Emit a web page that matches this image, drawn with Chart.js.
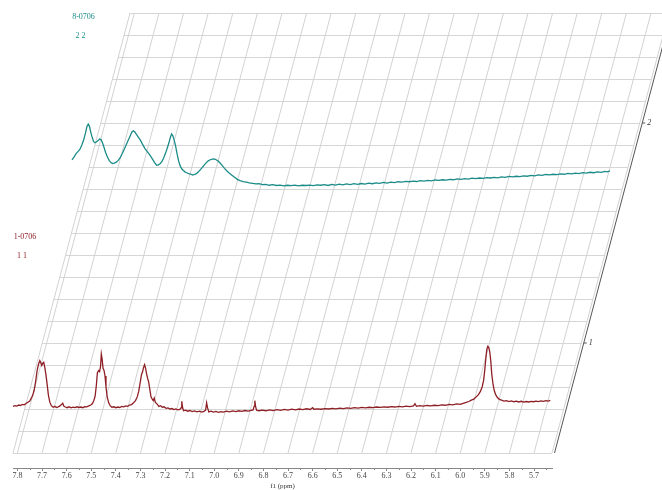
<!DOCTYPE html>
<html>
<head>
<meta charset="utf-8">
<script src="https://cdn.jsdelivr.net/npm/chart.js@4"></script>
<style>
  body { margin: 0; background: #fff; }
  #wrap { width: 662px; height: 490px; }
</style>
</head>
<body>
<div id="wrap"><canvas id="js--chart" width="662" height="490"></canvas></div>
<script>
// spectrum names (top-left labels)
const specNames = ['1-0706', '8-0706'];
const specNums = ['1 1', '2 2'];
const specColors = ['#8e1f25', '#1b8c88'];
const depthLabels = ['1', '2'];

// spectrum 1 (front), chemical shift in ppm and intensity
const s1Ppm = [7.818,7.810,7.802,7.795,7.788,7.780,7.772,7.764,7.757,7.750,7.744,7.738,7.732,7.726,7.720,7.714,7.709,7.705,7.701,7.697,
  7.693,7.689,7.684,7.679,7.674,7.668,7.662,7.655,7.648,7.641,7.634,7.627,7.621,7.616,7.611,7.605,7.598,7.590,7.582,7.574,
  7.566,7.558,7.550,7.542,7.534,7.526,7.518,7.510,7.502,7.495,7.489,7.484,7.479,7.475,7.470,7.466,7.462,7.459,7.456,7.452,
  7.448,7.444,7.440,7.435,7.429,7.423,7.416,7.408,7.400,7.392,7.384,7.376,7.368,7.360,7.352,7.344,7.336,7.328,7.320,7.313,
  7.307,7.301,7.296,7.291,7.287,7.283,7.279,7.275,7.271,7.267,7.262,7.257,7.252,7.248,7.244,7.239,7.232,7.225,7.218,7.211,
  7.204,7.196,7.188,7.180,7.172,7.164,7.156,7.148,7.140,7.135,7.132,7.129,7.125,7.117,7.108,7.099,7.090,7.080,7.070,7.060,
  7.050,7.042,7.035,7.031,7.027,7.022,7.013,7.003,6.993,6.983,6.973,6.963,6.950,6.938,6.925,6.912,6.900,6.888,6.875,6.862,
  6.850,6.842,6.838,6.835,6.832,6.828,6.818,6.805,6.790,6.775,6.760,6.745,6.730,6.715,6.700,6.685,6.670,6.655,6.640,6.625,
  6.610,6.600,6.595,6.580,6.565,6.550,6.535,6.520,6.505,6.490,6.475,6.460,6.445,6.430,6.415,6.400,6.385,6.370,6.355,6.340,
  6.325,6.310,6.295,6.280,6.265,6.250,6.235,6.220,6.205,6.190,6.184,6.178,6.165,6.150,6.135,6.120,6.105,6.090,6.075,6.060,
  6.045,6.030,6.015,6.000,5.988,5.976,5.965,5.955,5.945,5.935,5.926,5.918,5.911,5.905,5.900,5.896,5.892,5.888,5.884,5.880,
  5.876,5.872,5.867,5.862,5.856,5.849,5.841,5.832,5.822,5.812,5.802,5.792,5.782,5.772,5.762,5.752,5.742,5.732,5.722,5.712,
  5.702,5.692,5.682,5.672,5.662,5.652,5.642,5.634];
const s1Int = [0.12,0.15,0.13,0.18,0.16,0.21,0.19,0.26,0.31,0.36,0.48,0.62,0.85,1.25,1.75,2.05,2.2,2.1,1.98,2.08,
  2.12,1.9,1.55,1.1,0.62,0.3,0.15,0.08,0.12,0.07,0.1,0.14,0.2,0.26,0.12,0.09,0.06,0.1,0.05,0.08,
  0.06,0.1,0.07,0.09,0.06,0.11,0.1,0.14,0.18,0.25,0.4,0.6,1.1,1.65,1.75,1.7,1.95,2.5,2.3,1.85,
  1.75,1.5,1.0,0.55,0.28,0.15,0.08,0.1,0.06,0.09,0.07,0.12,0.1,0.14,0.12,0.18,0.2,0.28,0.38,0.55,
  0.8,1.2,1.55,1.7,1.9,2.02,1.85,1.6,1.4,1.25,0.9,0.55,0.45,0.38,0.5,0.3,0.22,0.12,0.15,0.08,
  0.1,0.03,0.05,0.0,0.02,-0.03,0.0,-0.04,-0.02,0.05,0.35,0.1,-0.08,-0.05,-0.1,-0.07,-0.12,-0.09,-0.13,-0.1,
  -0.14,-0.11,-0.05,0.28,0.05,-0.13,-0.1,-0.14,-0.11,-0.15,-0.12,-0.14,-0.1,-0.13,-0.09,-0.12,-0.08,-0.11,-0.07,-0.1,
  -0.06,-0.04,0.12,0.38,0.12,-0.05,-0.08,-0.05,-0.08,-0.04,-0.07,-0.03,-0.06,-0.02,-0.05,-0.01,-0.04,0.0,-0.03,0.01,
  -0.02,0.06,-0.01,0.01,-0.01,0.02,0.0,0.03,0.01,0.04,0.02,0.05,0.03,0.06,0.04,0.07,0.05,0.08,0.06,0.09,
  0.07,0.1,0.08,0.11,0.09,0.12,0.1,0.13,0.11,0.14,0.24,0.12,0.15,0.13,0.16,0.14,0.17,0.15,0.19,0.17,
  0.21,0.19,0.23,0.21,0.26,0.3,0.34,0.4,0.45,0.55,0.65,0.8,1.0,1.3,1.8,2.3,2.7,2.85,2.8,2.6,
  2.2,1.6,1.15,0.85,0.65,0.52,0.44,0.4,0.36,0.38,0.34,0.37,0.33,0.36,0.32,0.35,0.31,0.34,0.32,0.35,
  0.33,0.36,0.34,0.37,0.35,0.38,0.36,0.39];

// spectrum 2 (back)
const s2Ppm = [7.816,7.808,7.800,7.792,7.784,7.776,7.768,7.761,7.755,7.750,7.745,7.740,7.734,7.728,7.722,7.716,7.710,7.704,7.698,7.692,
  7.686,7.679,7.672,7.665,7.658,7.651,7.644,7.636,7.628,7.620,7.612,7.604,7.596,7.588,7.580,7.573,7.567,7.561,7.554,7.546,
  7.538,7.530,7.520,7.510,7.500,7.490,7.480,7.472,7.465,7.457,7.450,7.443,7.436,7.429,7.422,7.416,7.411,7.406,7.400,7.394,
  7.388,7.382,7.376,7.370,7.364,7.357,7.350,7.342,7.334,7.326,7.318,7.310,7.302,7.294,7.286,7.278,7.270,7.262,7.254,7.246,
  7.238,7.230,7.222,7.214,7.205,7.196,7.186,7.176,7.166,7.155,7.144,7.133,7.120,7.108,7.095,7.082,7.068,7.055,7.042,7.028,
  7.015,7.000,6.985,6.970,6.955,6.940,6.925,6.910,6.895,6.880,6.865,6.850,6.835,6.820,6.805,6.790,6.775,6.760,6.745,6.730,
  6.715,6.700,6.685,6.670,6.655,6.640,6.625,6.610,6.595,6.580,6.565,6.550,6.535,6.520,6.505,6.490,6.475,6.460,6.445,6.430,
  6.415,6.400,6.385,6.370,6.355,6.340,6.325,6.310,6.295,6.280,6.265,6.250,6.235,6.220,6.205,6.190,6.175,6.160,6.145,6.130,
  6.115,6.100,6.085,6.070,6.055,6.040,6.025,6.010,5.995,5.980,5.965,5.950,5.935,5.920,5.905,5.890,5.875,5.860,5.845,5.830,
  5.815,5.800,5.785,5.770,5.755,5.740,5.725,5.710,5.695,5.680,5.665,5.650,5.640,5.629];
const s2Int = [1.32,1.45,1.6,1.7,1.8,2.0,2.25,2.55,2.85,2.95,2.85,2.6,2.35,2.15,2.1,2.15,2.2,2.27,2.25,2.1,
  1.9,1.65,1.45,1.3,1.2,1.16,1.18,1.22,1.3,1.42,1.6,1.8,2.0,2.2,2.4,2.58,2.64,2.6,2.48,2.35,
  2.22,2.05,1.85,1.7,1.55,1.38,1.2,1.08,1.1,1.16,1.25,1.42,1.62,1.85,2.1,2.35,2.5,2.42,2.2,1.9,
  1.55,1.25,1.05,0.92,0.85,0.78,0.74,0.7,0.68,0.63,0.66,0.7,0.78,0.88,0.98,1.1,1.2,1.28,1.33,1.36,
  1.37,1.33,1.27,1.18,1.06,0.94,0.82,0.72,0.63,0.53,0.44,0.38,0.34,0.31,0.28,0.26,0.23,0.24,0.2,0.21,
  0.17,0.2,0.16,0.18,0.14,0.17,0.15,0.18,0.14,0.17,0.16,0.18,0.15,0.19,0.17,0.2,0.16,0.21,0.18,0.22,
  0.19,0.23,0.2,0.24,0.21,0.25,0.22,0.27,0.24,0.28,0.26,0.3,0.27,0.31,0.29,0.33,0.31,0.35,0.33,0.36,
  0.34,0.38,0.36,0.39,0.37,0.41,0.39,0.42,0.4,0.44,0.42,0.46,0.44,0.47,0.45,0.49,0.47,0.5,0.48,0.52,
  0.5,0.53,0.51,0.55,0.53,0.57,0.55,0.58,0.56,0.6,0.58,0.62,0.6,0.64,0.62,0.66,0.64,0.67,0.65,0.69,
  0.67,0.71,0.69,0.72,0.7,0.74,0.72,0.76,0.74,0.78,0.76,0.8,0.78,0.82];

const ROWS = 20;          // horizontal grid rows
const SKEW = 117 / 440;   // x shift per pixel of depth
const BASE = 2;           // baseline row of front spectrum
const DEPTHS = [0, 10];   // rows each spectrum is stacked back
const PPM_MIN = 5.627;
const PPM_MAX = 7.818;

function toPoints(ppm, vals, depth){
  return ppm.map(function(p, i){
    return { x: p, y: BASE + depth + vals[i] };
  });
}

const skewPlugin = {
  id: 'skew',
  beforeDatasetsDraw(chart){
    const ctx = chart.ctx;
    const xs = chart.scales.x, ys = chart.scales.y;
    const area = chart.chartArea;
    const y0 = ys.getPixelForValue(0);
    const yTop = ys.getPixelForValue(ROWS);
    const dx = (y0 - yTop) * SKEW;
    ctx.save();
    ctx.lineWidth = 1;
    ctx.strokeStyle = '#d6d6d6';
    for(let i = 0; i <= ROWS; i++){
      const py = Math.round(ys.getPixelForValue(i)) + 0.5;
      const off = (y0 - py) * SKEW;
      ctx.beginPath();
      ctx.moveTo(area.left + off, py);
      ctx.lineTo(area.right + off, py);
      ctx.stroke();
    }
    ctx.strokeStyle = '#d2d2d2';
    const vals = xs.ticks.map(function(t){ return t.value; });
    vals.push(PPM_MAX);
    vals.forEach(function(v){
      const px = xs.getPixelForValue(v);
      ctx.beginPath();
      ctx.moveTo(px, y0);
      ctx.lineTo(px + dx, yTop);
      ctx.stroke();
    });
    // depth axis on the right
    const rx = area.right + 1.5;
    ctx.beginPath();
    ctx.moveTo(area.right, y0);
    ctx.lineTo(area.right + dx, yTop);
    ctx.stroke();
    ctx.strokeStyle = '#555';
    ctx.beginPath();
    ctx.moveTo(rx + 1, y0);
    ctx.lineTo(rx + 1 + dx, yTop);
    ctx.stroke();
    ctx.fillStyle = '#333';
    ctx.font = 'italic 8px "Liberation Serif"';
    ctx.textBaseline = 'middle';
    depthLabels.forEach(function(lbl, i){
      const row = 5 + 10 * i;
      const py = ys.getPixelForValue(row);
      const px = rx + 1 + (y0 - py) * SKEW;
      ctx.beginPath();
      ctx.moveTo(px, py);
      ctx.lineTo(px + 3, py);
      ctx.stroke();
      ctx.fillText(lbl, px + 5, py);
    });
    // minor ticks on ppm axis
    ctx.strokeStyle = '#888';
    for(let v = 5.65; v < PPM_MAX; v += 0.1){
      const px = Math.round(xs.getPixelForValue(v)) + 0.5;
      ctx.beginPath();
      ctx.moveTo(px, area.bottom);
      ctx.lineTo(px, area.bottom + 2);
      ctx.stroke();
    }
    ctx.restore();
  },
  beforeDatasetDraw(chart, args){
    const ys = chart.scales.y;
    const depth = DEPTHS[args.index];
    const shift = (ys.getPixelForValue(0) - ys.getPixelForValue(depth)) * SKEW;
    chart.ctx.save();
    chart.ctx.translate(shift, 0);
  },
  afterDatasetDraw(chart){
    chart.ctx.restore();
  },
  afterDraw(chart){
    const ctx = chart.ctx;
    const ys = chart.scales.y;
    const area = chart.chartArea;
    ctx.save();
    ctx.font = '8px "Liberation Serif"';
    ctx.textAlign = 'center';
    ctx.textBaseline = 'middle';
    specNames.forEach(function(name, i){
      const d = DEPTHS[i];
      const shift = (ys.getPixelForValue(0) - ys.getPixelForValue(d)) * SKEW;
      ctx.fillStyle = specColors[i];
      ctx.fillText(name, area.left + 12 + shift, ys.getPixelForValue(d + 9.8));
      ctx.fillText(specNums[i], area.left + 9 + shift, ys.getPixelForValue(d + 8.95));
    });
    ctx.restore();
  }
};

const chart = new Chart(document.getElementById('js--chart'), {
  type: 'line',
  data: {
    datasets: [
      {
        label: specNames[0],
        data: toPoints(s1Ppm, s1Int, DEPTHS[0]),
        borderColor: specColors[0],
        borderWidth: 1.3,
        pointRadius: 0,
        tension: 0,
        clip: false
      },
      {
        label: specNames[1],
        data: toPoints(s2Ppm, s2Int, DEPTHS[1]),
        borderColor: specColors[1],
        borderWidth: 1.3,
        pointRadius: 0,
        tension: 0,
        clip: false
      }
    ]
  },
  options: {
    responsive: false,
    animation: false,
    devicePixelRatio: 1,
    layout: { padding: { left: 13, top: 13, right: 110, bottom: 0 } },
    plugins: { legend: { display: false }, tooltip: { enabled: false } },
    scales: {
      x: {
        type: 'linear',
        reverse: true,
        min: PPM_MIN,
        max: PPM_MAX,
        afterFit: function(s){ s.height = 22; },
        grid: { drawOnChartArea: false, drawTicks: true, tickLength: 3, color: '#888' },
        border: { display: true, color: '#888' },
        ticks: {
          stepSize: 0.1,
          includeBounds: false,
          autoSkip: false,
          maxRotation: 0,
          padding: 0,
          color: '#444',
          font: { family: 'Liberation Serif', size: 8 },
          callback: function(v){ return v.toFixed(1); }
        },
        title: {
          display: true,
          text: 'f1 (ppm)',
          color: '#333',
          padding: { top: 0, bottom: 0 },
          font: { family: 'Liberation Serif', size: 7 }
        }
      },
      y: {
        type: 'linear',
        display: false,
        min: -15 / 22,
        max: ROWS
      }
    }
  },
  plugins: [skewPlugin]
});
</script>
</body>
</html>
